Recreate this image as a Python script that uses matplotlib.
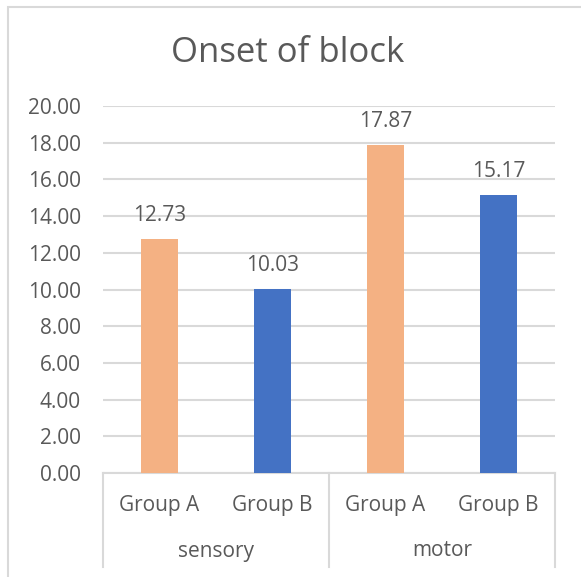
import matplotlib
matplotlib.use('Agg')
import matplotlib.pyplot as plt
from matplotlib.patches import Rectangle
from matplotlib.lines import Line2D

# data
groups = ["Group A", "Group B", "Group A", "Group B"]
conditions = ["sensory", "motor"]
values = [12.73, 10.03, 17.87, 15.17]
bar_colors = ["#F4B183", "#4472C4", "#F4B183", "#4472C4"]
yticks = [0, 2, 4, 6, 8, 10, 12, 14, 16, 18, 20]

plt.rcParams['font.family'] = ['Open Sans', 'DejaVu Sans']
text_color = "#595959"
line_color = "#D9D9D9"
fs = 15

W, H = 581, 577
fig = plt.figure(figsize=(W / 100, H / 100), dpi=100)

# chart border (runs off the right and bottom edge)
fig.patches.append(Rectangle((8 / W, -0.1), 1.2, 1.1 - 7.5 / H, transform=fig.transFigure,
                             fill=False, edgecolor=line_color, linewidth=1.5))

left, right, top, bottom = 103, 555, 106, 473
ax = fig.add_axes([left / W, 1 - bottom / H, (right - left) / W, (bottom - top) / H])

x = list(range(len(values)))
ax.bar(x, values, width=0.32, color=bar_colors, zorder=3)
for xi, v in zip(x, values):
    ax.annotate("%.2f" % v, (xi, v), xytext=(0, 17), textcoords="offset points",
                ha="center", va="center", fontsize=fs, color=text_color)

ax.set_xlim(-0.5, 3.5)
ax.set_ylim(0, 20)
ax.set_yticks(yticks)
ax.set_yticklabels(["%.2f" % t for t in yticks])
ax.tick_params(axis="y", length=0, pad=16, labelsize=fs, labelcolor=text_color)
ax.set_xticks([])
ax.yaxis.grid(True, color=line_color, linewidth=1.5, zorder=0)
ax.set_axisbelow(True)
for side in ["top", "right", "left"]:
    ax.spines[side].set_visible(False)
ax.spines["bottom"].set_color(line_color)
ax.spines["bottom"].set_linewidth(1.5)

# two-level category axis
tr = ax.get_xaxis_transform()
sep_bottom = -(567 - bottom) / (bottom - top)
for xs in [-0.5, 1.5, 3.5]:
    ax.add_line(Line2D([xs, xs], [0, sep_bottom], transform=tr, color=line_color,
                       linewidth=1.5, clip_on=False))
for xi, g in zip(x, groups):
    ax.text(xi, -(505 - bottom) / (bottom - top), g, transform=tr, ha="center", va="center",
            fontsize=fs, color=text_color)
for i, c in enumerate(conditions):
    ax.text(2 * i + 0.5, -(551 - bottom) / (bottom - top), c, transform=tr, ha="center",
            va="center", fontsize=fs, color=text_color)

fig.text(288 / W, 1 - 53 / H, "Onset of block", ha="center", va="center", fontsize=25,
         color=text_color)

fig.savefig("out.png", dpi=100, facecolor="white")
